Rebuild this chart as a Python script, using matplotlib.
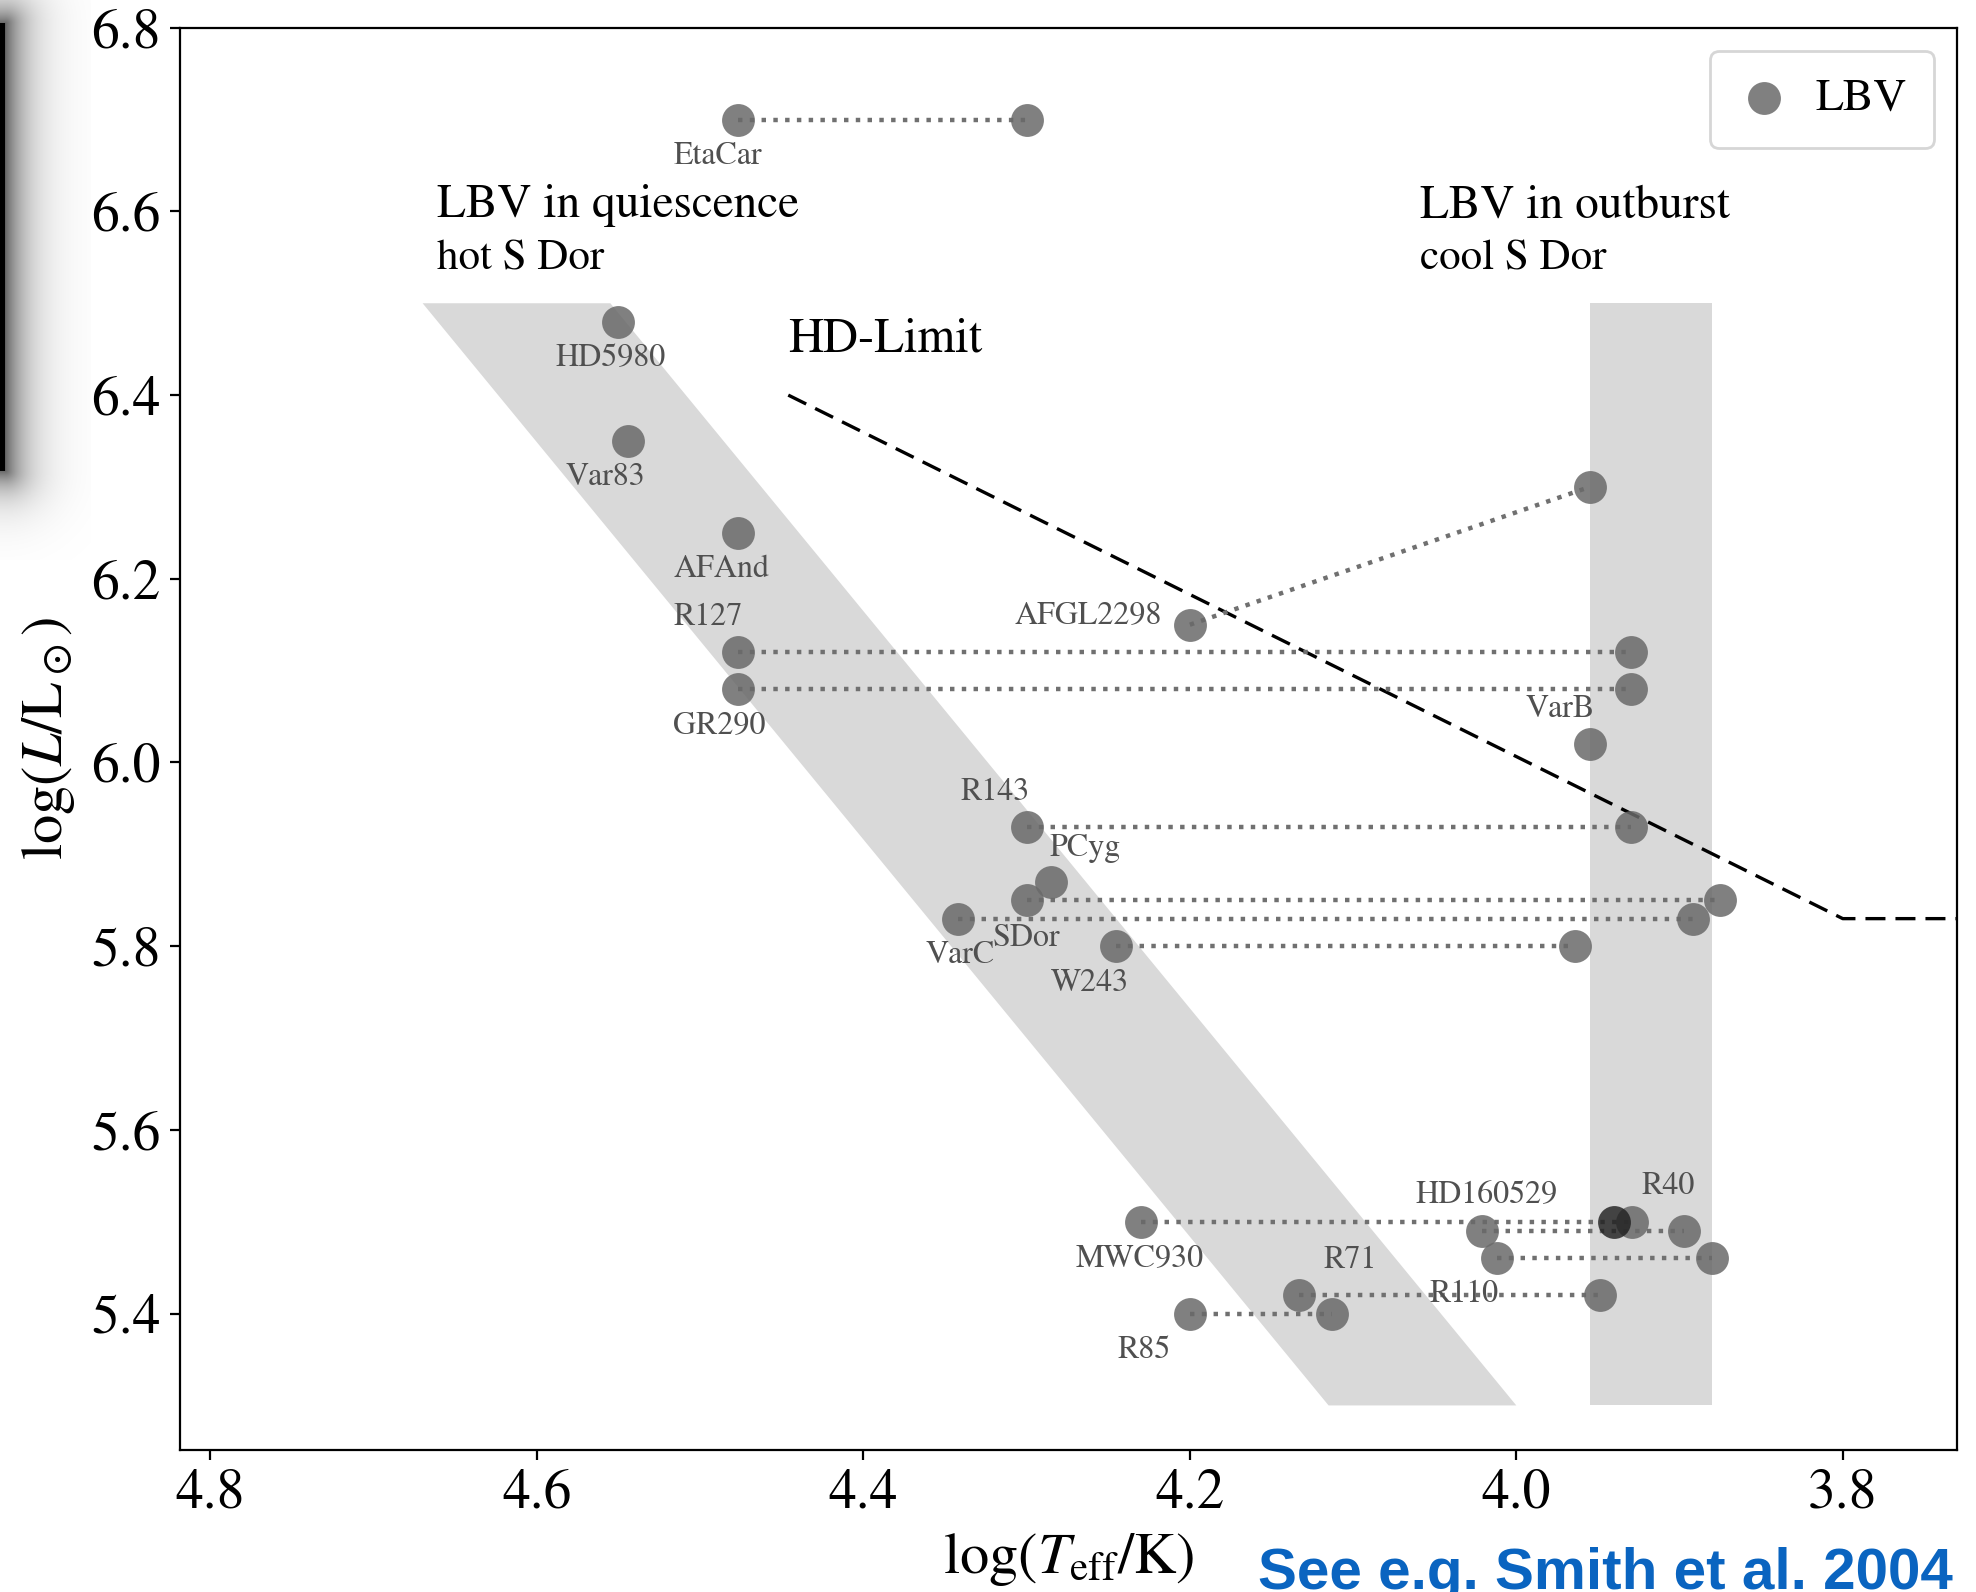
import numpy as np
import matplotlib
matplotlib.use("Agg")
import matplotlib.pyplot as plt

plt.rcParams['font.family'] = 'STIXGeneral'
plt.rcParams['mathtext.fontset'] = 'stix'

# stars observed both in quiescence (hot) and in outburst (cool)
pair_hot_T = [4.477, 4.477, 4.477, 4.20, 4.30, 4.30, 4.342, 4.245, 4.23, 4.021, 4.012, 4.133, 4.20]
pair_hot_L = [6.70, 6.12, 6.08, 6.15, 5.93, 5.85, 5.83, 5.80, 5.50, 5.49, 5.46, 5.42, 5.40]
pair_cool_T = [4.30, 3.93, 3.93, 3.955, 3.93, 3.875, 3.892, 3.964, 3.929, 3.897, 3.88, 3.949, 4.113]
pair_cool_L = [6.70, 6.12, 6.08, 6.30, 5.93, 5.85, 5.83, 5.80, 5.50, 5.49, 5.46, 5.42, 5.40]

# stars with a single position
single_T = [4.55, 4.544, 4.477, 3.955, 4.285]
single_L = [6.48, 6.35, 6.25, 6.02, 5.87]

# the darker marker sitting on the R40 position
dark_T = [3.940]
dark_L = [5.50]

# star names and where their labels sit
label_names = ["EtaCar", "HD5980", "Var83", "AFAnd", "R127", "GR290", "AFGL2298", "VarB",
               "R143", "PCyg", "SDor", "VarC", "W243", "HD160529", "R40", "MWC930",
               "R71", "R110", "R85"]
label_T = [4.489, 4.555, 4.558, 4.487, 4.495, 4.488, 4.262, 3.973,
           4.319, 4.264, 4.300, 4.341, 4.261, 4.018, 3.907, 4.231,
           4.102, 4.032, 4.228]
label_L = [6.660, 6.440, 6.310, 6.210, 6.158, 6.040, 6.160, 6.058,
           5.968, 5.907, 5.809, 5.790, 5.760, 5.529, 5.539, 5.460,
           5.458, 5.421, 5.360]

# shaded regions: S Dor instability strip and outburst strip
strip_T = [4.67, 4.555, 4.00, 4.115]
strip_L = [6.50, 6.50, 5.30, 5.30]
outburst_T = [3.955, 3.88]
outburst_L = [5.30, 6.50]

# Humphreys-Davidson limit
hd_T = [4.446, 3.80, 3.70]
hd_L = [6.40, 5.83, 5.83]

fig = plt.figure(figsize=(9.88, 7.96), dpi=200)
ax = fig.add_axes([0.0912, 0.0895, 0.8992, 0.8931])

ax.fill(strip_T, strip_L, color='#d9d9d9', lw=0, zorder=0)
ax.fill_between(outburst_T, outburst_L[0], outburst_L[1], color='#d9d9d9', lw=0, zorder=0)

ax.plot(hd_T, hd_L, color='k', lw=1.2, dashes=(6, 3), zorder=1)

for th, lh, tc, lc in zip(pair_hot_T, pair_hot_L, pair_cool_T, pair_cool_L):
    ax.plot([th, tc], [lh, lc], color='#707070', lw=1.6, linestyle=':', zorder=2)

all_T = pair_hot_T + pair_cool_T + single_T
all_L = pair_hot_L + pair_cool_L + single_L
ax.scatter(all_T, all_L, s=140, color='#6a6a6a', alpha=0.85, linewidths=0, zorder=3, label='LBV')
ax.scatter(dark_T, dark_L, s=140, color='#1e1e1e', alpha=0.8, linewidths=0, zorder=4)

for name, t, l in zip(label_names, label_T, label_L):
    ax.text(t, l, name, fontsize=11.5, color='#505050', ha='center', va='center', zorder=5)

ax.text(4.661, 6.606, 'LBV in quiescence', fontsize=17, va='center')
ax.text(4.661, 6.548, 'hot S Dor', fontsize=15.5, va='center')
ax.text(4.059, 6.606, 'LBV in outburst', fontsize=17, va='center')
ax.text(4.059, 6.548, 'cool S Dor', fontsize=15.5, va='center')
ax.text(4.446, 6.46, 'HD-Limit', fontsize=17.5, va='center')

ax.set_xlim(4.8185, 3.73)
ax.set_ylim(5.252, 6.8)
ax.set_xticks([4.8, 4.6, 4.4, 4.2, 4.0, 3.8])
ax.set_yticks([5.4, 5.6, 5.8, 6.0, 6.2, 6.4, 6.6, 6.8])
ax.tick_params(labelsize=20, direction='out')
ax.set_xlabel(r'$\log(T_\mathrm{eff}/\mathrm{K})$', fontsize=21)
ax.set_ylabel(r'$\log(L/\mathrm{L}_\odot)$', fontsize=21, labelpad=5)

ax.legend(loc='upper right', fontsize=16.5, scatterpoints=1, handlelength=1.15,
          handletextpad=0.55, borderpad=0.6)

fig.text(0.9885, 0.002, 'See e.g. Smith et al. 2004', fontsize=21, fontweight='bold',
         family='Liberation Sans', color='#0a64c0', ha='right', va='baseline')

# dark slide edge with its shadow at the top left
W, H = 90, 560
yy, xx = np.mgrid[0:H, 0:W]
dx = np.clip(xx - 5, 0, None)
dy = np.clip(np.maximum(yy - 470, 23 - yy), 0, None)
d = np.hypot(dx, dy)
shade = np.zeros((H, W, 4))
shade[..., 3] = 0.6 * np.exp(-d / 22.0)
shade[(xx < 5) & (yy >= 23) & (yy <= 470), 3] = 1.0
sax = fig.add_axes([0, 1 - H / 1592, W / 1976, H / 1592], zorder=-1)
sax.imshow(shade, aspect='auto', interpolation='bilinear')
sax.axis('off')

fig.savefig('out.png', dpi=200)
